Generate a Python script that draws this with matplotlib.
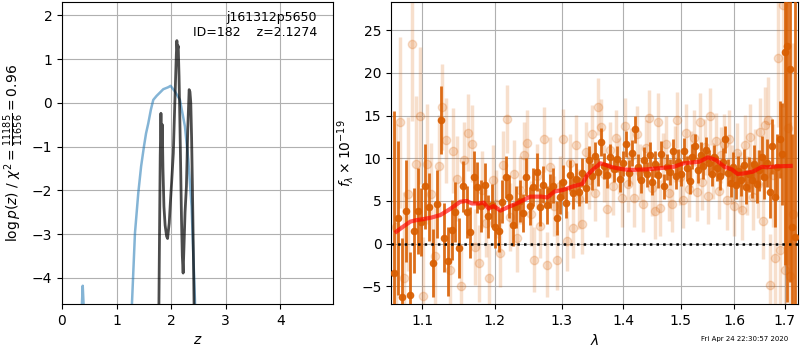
import numpy as np
import matplotlib
matplotlib.use('Agg')
import matplotlib.pyplot as plt
from matplotlib.ticker import NullLocator

# ── p(z) panel data ──────────────────────────────────────────
prior_z = [0.30, 0.365, 0.38, 0.395, 0.45, 1.20, 1.282, 1.337, 1.398, 1.45, 1.502,
           1.54, 1.581, 1.63, 1.673, 1.734, 1.80, 1.856, 1.948, 1.99, 2.07, 2.161,
           2.253, 2.314, 2.375, 2.436, 2.48]
prior_logp = [-8, -4.6, -4.18, -4.6, -8, -7, -4.59, -2.98, -2.06, -1.45, -0.997,
              -0.7, -0.47, -0.15, 0.067, 0.158, 0.24, 0.31, 0.356, 0.387, 0.258, 0.067,
              -0.54, -1.30, -2.37, -4.50, -7]

pz_z = [1.76, 1.78, 1.80, 1.813, 1.822, 1.830, 1.838, 1.85, 1.868, 1.89, 1.917,
        1.935, 1.947, 1.965, 1.985, 2.01, 2.04, 2.07, 2.095, 2.105, 2.115, 2.13,
        2.145, 2.16, 2.175, 2.19, 2.205, 2.22, 2.235, 2.255, 2.28, 2.305, 2.33,
        2.345, 2.36, 2.375, 2.39, 2.405, 2.42, 2.44]
pz_logp = [-7, -4.0, -1.2, -0.24, -0.9, -1.4, -0.5, -1.5, -2.37, -2.8, -3.05,
           -3.1, -2.95, -2.75, -2.3, -1.8, -1.15, 0.1, 1.1, 1.42, 1.2, 1.3,
           0.6, -0.4, -1.5, -2.67, -3.5, -3.89, -3.3, -2.5, -1.91, -0.6, 0.3,
           0.25, 0.0, -0.8, -1.91, -3.2, -4.6, -7]

# ── spectrum panel data ──────────────────────────────────────
# regular pixel grids for the two spectra (microns)
lam_a = np.linspace(1.063, 1.720, 130)
flux_a = [-3.5, 3.0, -6.3, 3.8, -6.0, 1.5, 3.8, 2.5, 6.7, 4.3,
          -2.3, 4.6, 14.5, 0.7, -2.1, 1.6, 3.7, -0.5, 6.7, 3.7,
          1.3, 7.8, 6.6, 4.4, 6.9, 3.2, 4.5, 2.0, 1.5, 4.9,
          7.8, 5.5, 2.2, 4.3, 5.0, 3.6, 7.8, 4.4, 6.6, 8.4,
          4.3, 6.9, 4.5, 6.2, 6.8, 3.0, 5.5, 7.2, 4.8, 8.0,
          5.9, 7.6, 6.1, 8.3, 6.5, 9.8, 7.9, 10.3, 8.4, 11.9,
          9.1, 8.0, 10.2, 8.7, 9.9, 7.6, 9.4, 11.7, 8.3, 10.6,
          13.4, 9.0, 7.4, 9.8, 8.1, 10.4, 7.2, 9.3, 8.0, 10.5,
          6.7, 9.0, 8.4, 10.8, 7.9, 9.6, 8.2, 10.9, 8.8, 7.3,
          10.2, 11.4, 8.6, 10.4, 9.1, 11.0, 9.5, 8.2, 10.1, 8.8,
          7.9, 9.6, 12.2, 8.3, 7.1, 9.0, 6.9, 8.5, 7.4, 9.2,
          6.6, 8.1, 7.45, 9.3, 7.0, 8.6, 10.1, 7.8, 9.4, 6.0,
          11.4, 5.4, 9.0, 12.2, 10.5, 22.5, 23.1, 20.5, 1.9, 0.8]
err_a = [19, 9, 7, 6, 5, 5, 5, 4, 5, 4,
         4, 4, 4, 4, 4, 3.5, 3.5, 3.5, 3, 3,
         3, 3, 3, 3, 2.5, 2.5, 2.5, 2.5, 2.5, 2.5,
         2.5, 2.5, 2.5, 2.5, 2.5, 2.2, 2.2, 2.2, 2.2, 2.2,
         2.2, 2.2, 2.2, 2.0, 2.0, 2.0, 2.0, 2.0, 1.8, 1.8,
         1.8, 1.8, 1.7, 1.7, 1.7, 1.6, 1.6, 1.6, 1.6, 1.6,
         1.5, 1.5, 1.5, 1.5, 1.5, 1.5, 1.5, 1.5, 1.5, 1.5,
         1.6, 1.5, 1.5, 1.5, 1.5, 1.5, 1.5, 1.5, 1.5, 1.5,
         1.5, 1.5, 1.5, 1.5, 1.5, 1.5, 1.5, 1.5, 1.5, 1.5,
         1.5, 1.5, 1.5, 1.5, 1.5, 1.5, 1.5, 1.5, 1.5, 1.5,
         1.6, 1.6, 1.6, 1.6, 1.7, 1.7, 1.7, 1.8, 1.8, 1.9,
         2.0, 2.0, 2.1, 2.2, 2.3, 2.4, 2.5, 2.6, 2.8, 3.0,
         3.2, 3.5, 3.8, 4.5, 6.0, 25, 30, 25, 11, 30]

lam_b = np.linspace(1.066, 1.716, 130)
flux_b = [2.0, 14.2, -4.0, 5.8, 23.4, 9.3, 15.0, -6.2, 9.3, 5.8,
          -1.5, 9.1, 16.0, 12.1, -3.1, 10.9, 7.6, -5.0, 9.8, 13.0,
          11.7, -0.4, -2.3, 6.3, 2.4, -4.0, 7.5, 4.6, -1.1, 9.2,
          14.6, 3.1, 8.1, 0.7, 6.3, 10.4, 11.8, 3.5, -1.9, 7.9,
          2.1, 12.2, -2.5, 9.0, 4.4, -1.9, 6.8, 12.3, 0.3, 9.4,
          1.8, 11.6, 5.2, 2.3, 10.7, 7.4, 12.9, 5.9, 16.05, 13.7,
          8.2, 4.05, 11.0, 6.7, 12.4, 9.1, 5.3, 13.8, 7.0, 10.3,
          5.3, 12.8, 8.4, 4.6, 11.2, 14.7, 6.5, 3.86, 14.3, 4.2,
          9.7, 11.7, 5.9, 4.6, 10.5, 14.5, 7.8, 5.1, 13.0, 6.4,
          9.9, 12.4, 6.0, 14.3, 7.2, 11.3, 5.6, 14.9, 8.5, 12.0,
          6.2, 10.4, 11.7, 5.1, 12.2, 8.1, 4.4, 10.6, 7.2, 3.9,
          11.6, 6.8, 12.5, 5.4, 9.6, 7.0, 13.1, 2.7, 13.9, 14.5,
          -4.9, 8.0, -1.65, 21.7, -0.7, 28.0, -3.1, 13.5, -3.8, 3.5]
err_b = [12, 10, 10, 9, 9, 8, 8, 7, 7, 6,
         6, 6, 5, 5, 5, 5, 5, 5, 4.5, 4.5,
         4.5, 4.5, 4.5, 4.5, 4, 4, 4, 4, 4, 4,
         4, 4, 4, 4, 4, 3.8, 3.8, 3.8, 3.8, 3.8,
         3.8, 3.8, 3.8, 3.5, 3.5, 3.5, 3.5, 3.5, 3.5, 3.5,
         3.5, 3.5, 3.5, 3.5, 3.5, 3.3, 3.3, 3.3, 3.3, 3.3,
         3.3, 3.3, 3.3, 3.3, 3.3, 3.3, 3.3, 3.3, 3.3, 3.3,
         3.3, 3.3, 3.3, 3.3, 3.3, 3.3, 3.3, 3.3, 3.3, 3.3,
         3.3, 3.3, 3.3, 3.3, 3.3, 3.3, 3.3, 3.3, 3.3, 3.3,
         3.3, 3.3, 3.3, 3.3, 3.3, 3.3, 3.3, 3.3, 3.3, 3.3,
         3.3, 3.3, 3.5, 3.5, 3.5, 3.5, 3.5, 3.5, 3.5, 3.5,
         3.5, 3.5, 3.8, 3.8, 3.8, 4, 4, 4.5, 4.5, 5,
         6, 6, 7, 8, 9, 12, 14, 16, 18, 20]

model_lam = [1.066, 1.075, 1.084, 1.092, 1.100, 1.112, 1.124, 1.138, 1.151, 1.160,
             1.167, 1.178, 1.184, 1.191, 1.198, 1.208, 1.220, 1.232, 1.252, 1.269,
             1.278, 1.289, 1.303, 1.318, 1.333, 1.341, 1.349, 1.362, 1.366, 1.382,
             1.400, 1.413, 1.440, 1.465, 1.488, 1.505, 1.534, 1.550, 1.565, 1.581,
             1.595, 1.606, 1.616, 1.636, 1.654, 1.663, 1.685, 1.712]
model_flux = [1.4, 2.0, 2.57, 2.75, 2.85, 3.05, 3.35, 4.1, 4.9, 5.0,
              4.7, 4.7, 4.8, 4.1, 4.4, 3.86, 4.3, 4.7, 5.5, 5.5,
              5.4, 6.1, 6.3, 6.7, 7.0, 8.04, 8.6, 9.41, 9.33, 8.94,
              8.7, 8.63, 8.7, 8.85, 9.0, 9.4, 9.6, 10.1, 9.8, 9.0,
              8.7, 8.16, 8.2, 8.43, 9.0, 8.94, 9.05, 9.1]

orange = '#d95f02'

fig = plt.figure(figsize=(8, 3.5), dpi=100)
ax1 = fig.add_axes([0.0775, 0.131, 0.339, 0.863])
ax2 = fig.add_axes([0.489, 0.131, 0.509, 0.863])

# ── left: log p(z) ───────────────────────────────────────────
ax1.plot(prior_z, prior_logp, color='#1f77b4', alpha=0.55, lw=1.8)
ax1.plot(pz_z, pz_logp, color='k', alpha=0.7, lw=2)
ax1.set_xlim(0, 4.97)
ax1.set_ylim(-4.6, 2.3)
ax1.set_xlabel('$z$')
ax1.set_ylabel(r'$\log p(z)$' + ' / ' + r'$\chi^2=\frac{11185}{11656}=0.96$')
ax1.text(0.941, 0.97, 'j161312p5650\nID=182    z=2.1274', ha='right', va='top',
         transform=ax1.transAxes, fontsize=9)
ax1.grid(True)

# ── right: spectrum ──────────────────────────────────────────
ax2.errorbar(lam_b, flux_b, yerr=err_b, marker='o', ms=6, linestyle='none',
             color=orange, alpha=0.2, elinewidth=2.5, zorder=2)
ax2.errorbar(lam_a, flux_a, yerr=err_a, marker='o', ms=4.5, linestyle='none',
             color=orange, alpha=0.9, elinewidth=2, zorder=3)
ax2.plot(model_lam, model_flux, color='r', alpha=0.65, lw=3, zorder=4)
ax2.axhline(0, color='k', ls=':', lw=1.8, zorder=5)

ax2.set_xscale('log')
ax2.set_xlim(1.0594, 1.728)
ax2.set_ylim(-7.1, 28.3)
xt = [1.1, 1.2, 1.3, 1.4, 1.5, 1.6, 1.7]
ax2.set_xticks(xt)
ax2.set_xticklabels([str(v) for v in xt])
ax2.xaxis.set_minor_locator(NullLocator())
ax2.set_yticks([-5, 0, 5, 10, 15, 20, 25])
ax2.set_xlabel(r'$\lambda$')
ax2.set_ylabel(r'$f_\lambda \times 10^{-19}$')
ax2.grid(True)

fig.text(0.985, 0.022, 'Fri Apr 24 22:30:57 2020', ha='right', va='bottom', fontsize=5)

fig.savefig('out.png', dpi=100)
